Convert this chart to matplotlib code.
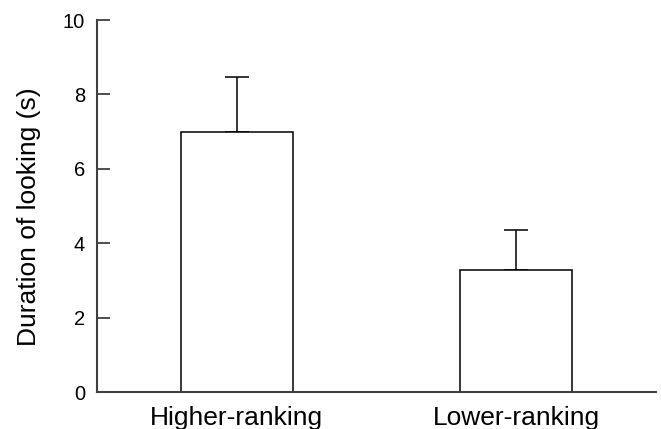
import numpy as np
import matplotlib
matplotlib.use("Agg")
import matplotlib.pyplot as plt

plt.rcParams['font.family'] = ['Liberation Sans', 'DejaVu Sans']

groups = ['Higher-ranking', 'Lower-ranking']
means = [7.0, 3.28]
errors = [1.48, 1.08]

fig = plt.figure(figsize=(6.61, 4.29), dpi=100)
ax = fig.add_axes([97 / 661, 1 - 392 / 429, 559 / 661, 372 / 429])

x = np.arange(len(groups))
ax.bar(x, means, width=0.4, color='white', edgecolor='black', linewidth=1.1, zorder=2)
ax.errorbar(x, means, yerr=[np.zeros(len(errors)), errors], fmt='none',
            ecolor='black', elinewidth=1.1, capsize=8.5, capthick=1.1, zorder=1)

ax.set_xlim(-0.5, 1.5)
ax.set_ylim(0, 10)
ax.set_yticks([0, 2, 4, 6, 8, 10])
ax.set_xticks(x)
ax.set_xticklabels(groups, fontsize=19)
ax.tick_params(axis='x', length=0, pad=10)
ax.tick_params(axis='y', direction='in', length=9, width=1.3, color='#404040',
               labelsize=14.5, pad=8.5)

for side in ['top', 'right']:
    ax.spines[side].set_visible(False)
for side in ['left', 'bottom']:
    ax.spines[side].set_color('#404040')
    ax.spines[side].set_linewidth(1.5)
ax.spines['bottom'].set_zorder(3)

ax.set_ylabel('Duration of looking (s)', fontsize=19)
ax.yaxis.set_label_coords(-0.100, 0.47)

fig.savefig('out.png', dpi=100)
